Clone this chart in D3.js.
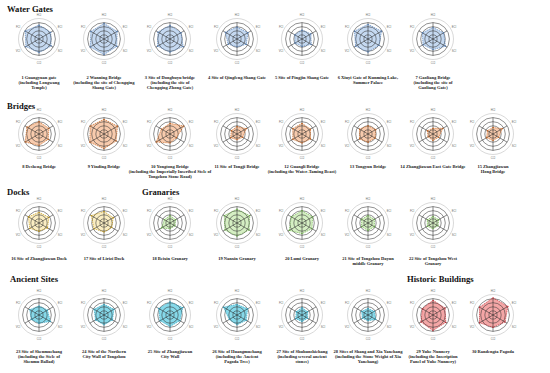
<!DOCTYPE html>
<html>
<head>
<meta charset="utf-8">
<script src="https://cdn.jsdelivr.net/npm/d3@7"></script>
<style>
  body { margin: 0; background: #fff; }
  .title { font-family: "Liberation Serif", "DejaVu Serif", serif; font-weight: bold; font-size: 8.6px; fill: #111; }
  .name { font-family: "Liberation Serif", "DejaVu Serif", serif; font-weight: bold; font-size: 4.5px; fill: #222; }
  .axlab { font-family: "Liberation Sans", sans-serif; font-size: 2.7px; fill: #666; }
</style>
</head>
<body>
<div id="chart"></div>
<script>
var svgWidth = 550;
var svgHeight = 373;

// six indicators, clockwise from the top
var axisLabels = ["HCI", "ECI", "SCI", "CCI", "VCI", "FCI"];

var gateNames = [
  ["1 Guangyuan gate", "(including Longwang", "Temple)"],
  ["2 Wanning Bridge", "(including the site of  Chengqing", "Shang Gate)"],
  ["3 Site of Dongbuyu bridge", "(including the site of", "Chengqing Zhong Gate)"],
  ["4 Site of Qingfeng Shang Gate"],
  ["5 Site of Pingjin Shang Gate"],
  ["6 Xiuyi Gate of Kunming Lake,", "Summer Palace"],
  ["7 Gaoliang Bridge", "(including the site of", "Gaoliang Gate)"]
];
var gateValues = [
  [3.4, 3.3, 3.4, 3.3, 3.7, 3.9],
  [3.8, 3.7, 3.6, 3.8, 3.9, 3.7],
  [3.3, 3.1, 3.7, 3.2, 3.5, 3.4],
  [2.9, 3.1, 2.6, 1.9, 2.5, 3.3],
  [2.2, 2.5, 2.6, 1.8, 2.0, 2.0],
  [3.6, 3.8, 3.1, 3.2, 3.5, 3.8],
  [2.8, 3.0, 3.5, 2.6, 2.8, 3.0]
];

var bridgeNames = [
  ["8 Desheng Bridge"],
  ["9 Yinding Bridge"],
  ["10 Yongtong Bridge", "(including the Imperially Inscribed Stele of", "Tongzhou Stone Road)"],
  ["11 Site of Tongji Bridge"],
  ["12 Guangli Bridge", "(including the Water-Taming Beast)"],
  ["13 Tongyun Bridge"],
  ["14 Zhangjiawan East Gate Bridge"],
  ["15 Zhangjiawan", "Hong Bridge"]
];
var bridgeValues = [
  [3.0, 2.8, 2.6, 2.8, 3.9, 3.4],
  [3.6, 3.8, 3.4, 3.6, 4.0, 3.9],
  [2.6, 3.9, 1.8, 2.2, 3.9, 2.4],
  [1.8, 2.6, 1.6, 1.4, 1.8, 1.6],
  [2.6, 2.4, 2.4, 2.2, 2.6, 2.6],
  [2.0, 2.2, 2.0, 2.0, 2.4, 2.4],
  [1.4, 2.8, 1.6, 1.6, 1.4, 1.6],
  [1.6, 2.6, 1.6, 1.6, 1.8, 1.6]
];

var dockNames = [
  ["16 Site of Zhangjiawan Dock"],
  ["17 Site of Lirizi Dock"]
];
var dockValues = [
  [2.6, 2.8, 2.4, 2.0, 2.6, 3.0],
  [2.8, 2.6, 2.2, 2.2, 2.8, 3.6]
];

var granaryNames = [
  ["18 Beixin Granary"],
  ["19 Nanxin Granary"],
  ["20 Lumi Granary"],
  ["21 Site of Tongzhou Dayun", "middle Granary"],
  ["22 Site of Tongzhou West", "Granary"]
];
var granaryValues = [
  [1.8, 1.6, 1.4, 1.4, 2.4, 1.6],
  [3.4, 3.6, 3.4, 3.2, 3.4, 3.6],
  [3.0, 3.0, 2.8, 2.6, 3.6, 3.0],
  [1.8, 1.8, 1.8, 1.8, 1.8, 1.8],
  [1.6, 1.6, 1.4, 1.4, 1.6, 1.6]
];

var siteNames = [
  ["23 Site of Shenmuchang", "(including the Stele of", "Shenmu Ballad)"],
  ["24 Site of the Northern", "City Wall of Tongzhou"],
  ["25 Site of Zhangjiawan", "City Wall"],
  ["26 Site of Huangmuchang", "(including the Ancient", "Pagoda Tree)"],
  ["27 Site of Shuhunshichang", "(including several ancient", "stones)"],
  ["28 Sites of Shang and Xia Yanchang", "(including the Stone Weight of Xia", "Yanchang)"]
];
var siteValues = [
  [2.2, 2.4, 3.2, 2.0, 2.2, 2.6],
  [2.6, 2.8, 2.4, 2.4, 2.4, 2.8],
  [3.2, 3.6, 2.8, 2.8, 2.8, 3.2],
  [2.6, 3.0, 2.6, 2.4, 2.2, 3.8],
  [1.8, 1.6, 1.6, 1.6, 1.8, 1.6],
  [1.6, 1.8, 2.2, 1.4, 1.6, 1.8]
];

var buildingNames = [
  ["29 Yuhe Nunnery", "(including the Inscription", "Panel of Yuhe Nunnery)"],
  ["30 Randengta Pagoda"]
];
var buildingValues = [
  [3.6, 3.4, 3.6, 3.8, 3.4, 3.0],
  [4.2, 4.2, 3.4, 3.0, 3.8, 3.8]
];

// layout
var colX = [39, 104, 170, 237, 302, 368, 433, 493];
var rowY = [39, 134, 223, 315];
var labelOffset = [40, 34, 37, 38];

var groups = [
  { title: "Water Gates", tx: 7, ty: 12, row: 0, col: 0, names: gateNames, values: gateValues, fill: "#c5d9f1", stroke: "#4a78b5" },
  { title: "Bridges", tx: 7, ty: 109, row: 1, col: 0, names: bridgeNames, values: bridgeValues, fill: "#f8cbad", stroke: "#c55a11" },
  { title: "Docks", tx: 7, ty: 195, row: 2, col: 0, names: dockNames, values: dockValues, fill: "#fbeec3", stroke: "#bf9000" },
  { title: "Granaries", tx: 142, ty: 195, row: 2, col: 2, names: granaryNames, values: granaryValues, fill: "#d5efc3", stroke: "#5fa83c" },
  { title: "Ancient Sites", tx: 10, ty: 282, row: 3, col: 0, names: siteNames, values: siteValues, fill: "#86d9ea", stroke: "#2a9fbd" },
  { title: "Historic Buildings", tx: 407, ty: 282, row: 3, col: 6, names: buildingNames, values: buildingValues, fill: "#f4a6a6", stroke: "#c0232b" }
];

var svg = d3.select("#chart")
  .append("svg")
  .attr("width", svgWidth)
  .attr("height", svgHeight);

var rScale = d3.scaleLinear().domain([0, 5]).range([0, 20.5]);
var angle = d3.scaleLinear().domain([0, axisLabels.length]).range([0, 2 * Math.PI]);

var radarLine = d3.lineRadial()
  .angle((d, i) => angle(i))
  .radius(d => rScale(d))
  .curve(d3.curveLinearClosed);

groups.forEach(function(g) {
  svg.append("text")
    .attr("class", "title")
    .attr("x", g.tx)
    .attr("y", g.ty)
    .text(g.title);

  g.values.forEach(function(vals, k) {
    var cx = colX[g.col + k];
    var cy = rowY[g.row];
    var radar = svg.append("g")
      .attr("transform", `translate(${cx}, ${cy})`);

    // data polygon first, grid drawn over it
    radar.append("path")
      .datum(vals)
      .attr("d", radarLine)
      .attr("fill", g.fill)
      .attr("stroke", "none");

    // rings
    radar.selectAll("circle.ring")
      .data([1, 2, 3, 4, 5])
      .enter()
      .append("circle")
      .attr("class", "ring")
      .attr("r", d => rScale(d))
      .attr("fill", "none")
      .attr("stroke", d => d === 5 ? "#aaa" : "#333")
      .attr("stroke-width", d => d === 5 ? 0.45 : 0.55);

    // axes
    radar.selectAll("line.axis")
      .data(axisLabels)
      .enter()
      .append("line")
      .attr("x1", 0).attr("y1", 0)
      .attr("x2", (d, i) => rScale(4) * Math.sin(angle(i)))
      .attr("y2", (d, i) => -rScale(4) * Math.cos(angle(i)))
      .attr("stroke", "#222")
      .attr("stroke-width", 0.55);

    // dashed outline on top
    radar.append("path")
      .datum(vals)
      .attr("d", radarLine)
      .attr("fill", "none")
      .attr("stroke", g.stroke)
      .attr("stroke-width", 0.6)
      .attr("stroke-dasharray", "1.4,0.8");

    radar.selectAll("circle.pt")
      .data(vals)
      .enter()
      .append("circle")
      .attr("class", "pt")
      .attr("r", 0.6)
      .attr("cx", (d, i) => rScale(d) * Math.sin(angle(i)))
      .attr("cy", (d, i) => -rScale(d) * Math.cos(angle(i)))
      .attr("fill", g.stroke);

    radar.selectAll("text.axlab")
      .data(axisLabels)
      .enter()
      .append("text")
      .attr("class", "axlab")
      .attr("x", (d, i) => rScale(5.9) * Math.sin(angle(i)))
      .attr("y", (d, i) => -rScale(5.9) * Math.cos(angle(i)) + 1)
      .attr("text-anchor", "middle")
      .text(d => d);

    // name below
    svg.append("text")
      .attr("class", "name")
      .attr("text-anchor", "middle")
      .selectAll("tspan")
      .data(g.names[k])
      .enter()
      .append("tspan")
      .attr("x", cx)
      .attr("y", (d, i) => cy + labelOffset[g.row] + i * 5)
      .text(d => d);
  });
});
</script>
</body>
</html>
